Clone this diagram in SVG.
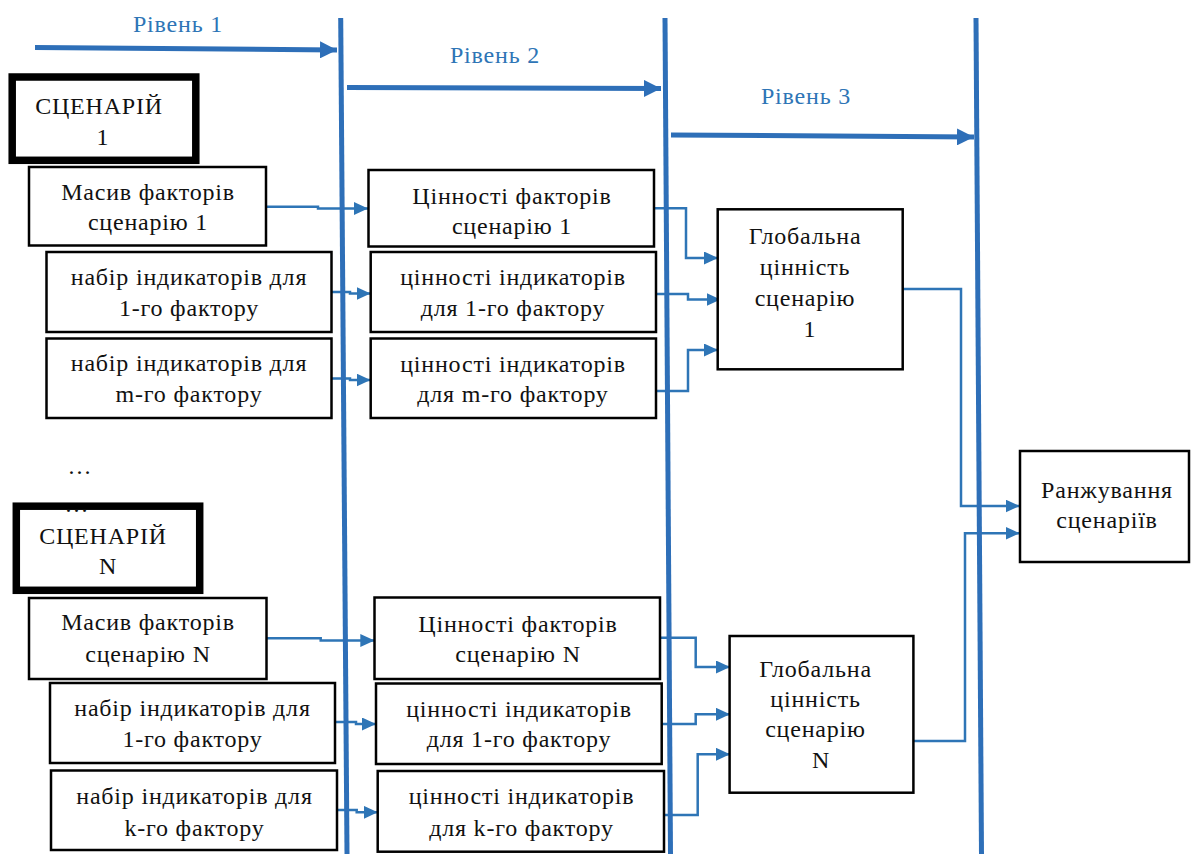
<svg xmlns="http://www.w3.org/2000/svg" width="1191" height="854" viewBox="0 0 1191 854">
<style>
  .box { fill: #ffffff; stroke: #000000; stroke-width: 2.5; }
  .thick { fill: #ffffff; stroke: #000000; stroke-width: 7.5; }
  .t { font-family: "Liberation Serif", "Times New Roman", serif; font-size: 24px; letter-spacing: 0.8px; fill: #111111; text-anchor: middle; }
  .lbl { font-family: "Liberation Serif", "Times New Roman", serif; font-size: 24px; letter-spacing: 0.8px; fill: #2E75B6; text-anchor: middle; }
  .vl { stroke: #2E6FB8; stroke-width: 5; fill: none; }
  .lv { stroke: #2E6FB8; stroke-width: 5; fill: none; }
  .c { stroke: #2E75B6; stroke-width: 2.5; fill: none; }
</style>
<defs>
  <marker id="ah" viewBox="0 0 14 13" refX="14" refY="6.5" markerWidth="14" markerHeight="13" markerUnits="userSpaceOnUse" orient="auto">
    <path d="M0,0 L14,6.5 L0,13 Z" fill="#2E75B6"/>
  </marker>
  <marker id="ahb" viewBox="0 0 17 17" refX="17" refY="8.5" markerWidth="17" markerHeight="17" markerUnits="userSpaceOnUse" orient="auto">
    <path d="M0,0 L17,8.5 L0,17 Z" fill="#2E6FB8"/>
  </marker>
</defs>

<g id="connectors">
  <path class="c" d="M266.7,206.7 H318 V208.5 H368" marker-end="url(#ah)"/>
  <path class="c" d="M331.5,292 H350 V293.5 H370.5" marker-end="url(#ah)"/>
  <path class="c" d="M331.5,378.5 H350 V380 H370.5" marker-end="url(#ah)"/>
  <path class="c" d="M654,208.3 H686 V258 H718" marker-end="url(#ah)"/>
  <path class="c" d="M656,294 H688 V299.5 H720.5" marker-end="url(#ah)"/>
  <path class="c" d="M656,391 H688 V350 H718" marker-end="url(#ah)"/>
  <path class="c" d="M902.7,289 H961 V506 H1019.5" marker-end="url(#ah)"/>
  <path class="c" d="M913.4,741 H965 V533.3 H1019.5" marker-end="url(#ah)"/>
  <path class="c" d="M266.7,638.3 H320.7 V640.5 H374.3" marker-end="url(#ah)"/>
  <path class="c" d="M335,722 H356 V724 H376" marker-end="url(#ah)"/>
  <path class="c" d="M337.3,810 H356.7 V812.3 H377.7" marker-end="url(#ah)"/>
  <path class="c" d="M660,637.7 H695.7 V667 H730" marker-end="url(#ah)"/>
  <path class="c" d="M662,724 H695.7 V714.3 H730" marker-end="url(#ah)"/>
  <path class="c" d="M664,815 H697.7 V754.3 H730" marker-end="url(#ah)"/>
</g>

<g id="levels">
  <line class="vl" x1="340.7" y1="18" x2="347" y2="854"/>
  <line class="vl" x1="665" y1="18" x2="670.5" y2="854"/>
  <line class="vl" x1="976" y1="18" x2="981.5" y2="854"/>
  <line class="lv" x1="35" y1="47.5" x2="337" y2="50" marker-end="url(#ahb)"/>
  <line class="lv" x1="347" y1="87.5" x2="661" y2="88.5" marker-end="url(#ahb)"/>
  <line class="lv" x1="671" y1="135" x2="974" y2="137" marker-end="url(#ahb)"/>
  <text class="lbl" x="178" y="32">Рівень 1</text>
  <text class="lbl" x="495" y="63">Рівень 2</text>
  <text class="lbl" x="806" y="104">Рівень 3</text>
</g>

<g id="scenario1">
  <rect class="thick" x="12.2" y="77" width="183.6" height="83.3"/>
  <text class="t" x="99" y="114">СЦЕНАРІЙ</text>
  <text class="t" x="103" y="145">1</text>
</g>
<g id="factors1">
  <rect class="box" x="29" y="167" width="237" height="78.5"/>
  <text class="t" x="148" y="200">Масив факторів</text>
  <text class="t" x="148" y="230">сценарію 1</text>
</g>
<g id="ind1_1">
  <rect class="box" x="46.5" y="252" width="285" height="80"/>
  <text class="t" x="189" y="285">набір індикаторів для</text>
  <text class="t" x="189" y="316">1-го фактору</text>
</g>
<g id="ind1_m">
  <rect class="box" x="46.5" y="338.5" width="285" height="79.5"/>
  <text class="t" x="189" y="371">набір індикаторів для</text>
  <text class="t" x="189" y="402">m-го фактору</text>
</g>
<g id="val1">
  <rect class="box" x="368.5" y="170" width="285.5" height="76.5"/>
  <text class="t" x="512" y="203.5">Цінності факторів</text>
  <text class="t" x="512" y="233.5">сценарію 1</text>
</g>
<g id="val1_1">
  <rect class="box" x="370.7" y="252" width="285.3" height="80"/>
  <text class="t" x="513" y="285">цінності індикаторів</text>
  <text class="t" x="513" y="315.5">для 1-го фактору</text>
</g>
<g id="val1_m">
  <rect class="box" x="370.7" y="338.5" width="285.3" height="79.5"/>
  <text class="t" x="513" y="371.5">цінності індикаторів</text>
  <text class="t" x="513" y="402">для m-го фактору</text>
</g>
<g id="global1">
  <rect class="box" x="717.7" y="209.3" width="185" height="160"/>
  <text class="t" x="805" y="244">Глобальна</text>
  <text class="t" x="805" y="275">цінність</text>
  <text class="t" x="805" y="306">сценарію</text>
  <text class="t" x="810" y="337">1</text>
</g>

<g id="ellipsis">
  <text class="t" x="80" y="473.5">…</text>
</g>

<g id="scenarioN">
  <rect class="thick" x="16.3" y="506.2" width="183.4" height="84.1"/>
  <text class="t" x="77" y="512">…</text>
  <text class="t" x="103" y="544">СЦЕНАРІЙ</text>
  <text class="t" x="108" y="574">N</text>
</g>
<g id="factorsN">
  <rect class="box" x="29" y="598" width="237.5" height="81"/>
  <text class="t" x="148" y="630">Масив факторів</text>
  <text class="t" x="148" y="661.5">сценарію N</text>
</g>
<g id="indN_1">
  <rect class="box" x="50" y="683" width="285" height="80"/>
  <text class="t" x="192.5" y="716">набір індикаторів для</text>
  <text class="t" x="192.5" y="747">1-го фактору</text>
</g>
<g id="indN_k">
  <rect class="box" x="51" y="770.5" width="286" height="79.5"/>
  <text class="t" x="194.5" y="804">набір індикаторів для</text>
  <text class="t" x="194.5" y="836">k-го фактору</text>
</g>
<g id="valN">
  <rect class="box" x="374.5" y="597.5" width="285.5" height="81.5"/>
  <text class="t" x="518" y="631.5">Цінності факторів</text>
  <text class="t" x="518" y="661.5">сценарію N</text>
</g>
<g id="valN_1">
  <rect class="box" x="376" y="683.5" width="285.7" height="80.5"/>
  <text class="t" x="519" y="716.5">цінності індикаторів</text>
  <text class="t" x="519" y="746.5">для 1-го фактору</text>
</g>
<g id="valN_k">
  <rect class="box" x="377.7" y="771" width="286.3" height="80.7"/>
  <text class="t" x="521.5" y="804">цінності індикаторів</text>
  <text class="t" x="521.5" y="836">для k-го фактору</text>
</g>
<g id="globalN">
  <rect class="box" x="729.6" y="636" width="183.8" height="156.7"/>
  <text class="t" x="815.5" y="676.7">Глобальна</text>
  <text class="t" x="815.5" y="706.7">цінність</text>
  <text class="t" x="815.5" y="736.7">сценарію</text>
  <text class="t" x="821" y="768">N</text>
</g>
<g id="ranking">
  <rect class="box" x="1020" y="451" width="169" height="111"/>
  <text class="t" x="1107" y="498">Ранжування</text>
  <text class="t" x="1107" y="528">сценаріїв</text>
</g>
</svg>
